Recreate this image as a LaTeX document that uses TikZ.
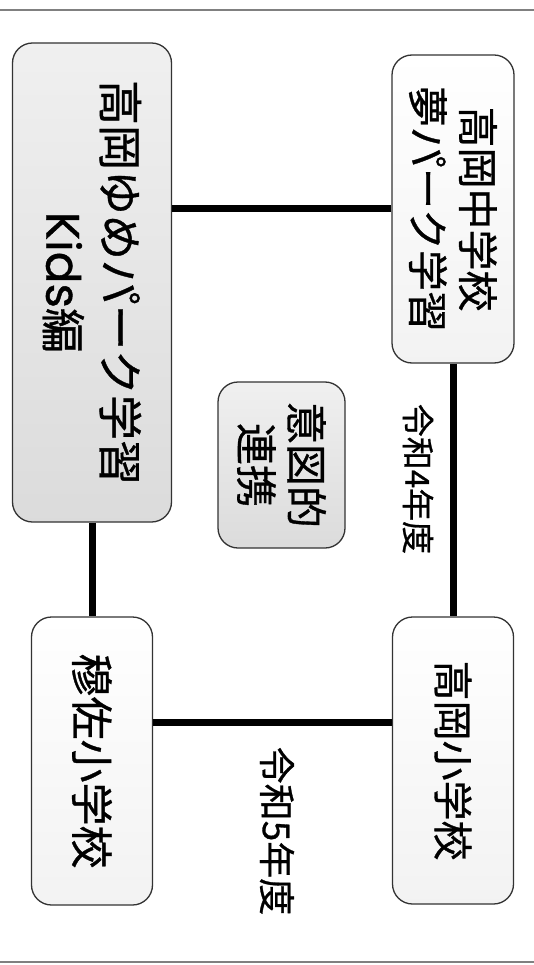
\documentclass[tikz,border=0pt]{standalone}
\usepackage{fontspec}
\setmainfont{Noto Sans CJK JP}[FakeBold=0.8]
\newfontfamily\kidsfont{Poppins}[FakeBold=0.8]
\usetikzlibrary{positioning}

\begin{document}
\begin{tikzpicture}[x=1pt,y=-1pt,
  school/.style={rectangle,rotate=-90,rounded corners=20pt,draw=black!80,line width=1.3pt,
    top color=white,bottom color=gray!10,align=center,inner sep=0pt,
    font=\fontsize{41}{50}\selectfont},
  kidsbox/.style={school,top color=gray!12,bottom color=gray!28,font=\fontsize{45}{57}\selectfont},
  year/.style={rotate=-90,inner sep=0pt,font=\fontsize{33}{40}\selectfont},
  edge/.style={line width=7pt}]
\useasboundingbox (0,0) rectangle (534,965);
\draw[gray, line width=1.5pt] (0,10) -- (534,10);
\draw[gray, line width=2pt] (0,962) -- (534,962);
\node(kids)[kidsbox,minimum width=479pt,minimum height=159pt] at (92,282.5) {高岡ゆめパーク学習\\{\kidsfont\fontsize{47}{57}\selectfont Kids}編};
\node(chu)[school,minimum width=308pt,minimum height=122pt] at (453,209) {高岡中学校\\夢パーク学習};
\node(ito)[kidsbox,minimum width=166pt,minimum height=127pt,font=\fontsize{42}{50}\selectfont] at (281.5,465) {意図的\\連携};
\node(muk)[school,minimum width=288pt,minimum height=121pt,font=\fontsize{43}{50}\selectfont] at (92,761) {穆佐小学校};
\node(sho)[school,minimum width=287pt,minimum height=121pt,font=\fontsize{40}{50}\selectfont] at (453,760.5) {高岡小学校};
\node(yr4)[year] at (418,479) {令和4年度};
\node(yr5)[year,font=\fontsize{37}{44}\selectfont] at (277,831) {令和5年度};
\draw [edge] (chu) -- (chu -| kids.north);
\draw [edge] (kids) -- (muk);
\draw [edge] (chu) -- (sho);
\draw [edge] ([yshift=39pt]muk.north) -- ([yshift=39pt]muk.north -| sho.south);
\end{tikzpicture}
\end{document}
